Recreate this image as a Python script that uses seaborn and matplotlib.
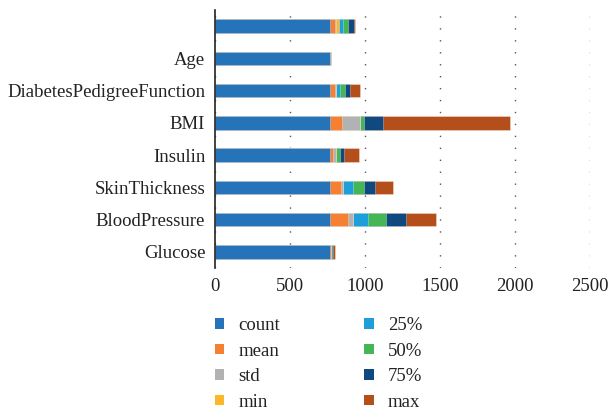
import matplotlib
matplotlib.use("Agg")
import matplotlib.pyplot as plt
from matplotlib.patches import Patch
import pandas as pd
import seaborn as sns

# --- data (top bar first) ---
features = ["", "Age", "DiabetesPedigreeFunction", "BMI", "Insulin",
            "SkinThickness", "BloodPressure", "Glucose"]
stats = ["count", "mean", "std", "min", "25%", "50%", "75%", "max"]

count_vals = [768, 768, 768, 768, 768, 768, 768, 768]
mean_vals = [29, 1, 29, 78, 18, 69, 118, 2]
std_vals = [11, 1, 11, 118, 18, 18, 36, 6]
min_vals = [18, 0, 0, 0, 0, 0, 0, 0]
p25_vals = [27, 1, 22, 0, 0, 64, 98, 0]
p50_vals = [33, 1, 36, 29, 27, 71, 118, 1]
p75_vals = [38, 1, 36, 127, 29, 78, 138, 7]
max_vals = [7, 1, 67, 844, 98, 120, 200, 18]

colors = ["#2574BA", "#F57F32", "#B1B2B4", "#FCB826",
          "#1E9FDA", "#44B653", "#10497F", "#B44E1A"]

df = pd.DataFrame({
    "feature": features,
    "count": count_vals,
    "mean": mean_vals,
    "std": std_vals,
    "min": min_vals,
    "25%": p25_vals,
    "50%": p50_vals,
    "75%": p75_vals,
    "max": max_vals,
})
cum = df[stats].cumsum(axis=1)
cum["feature"] = df["feature"]

sns.set_theme(style="white")
plt.rcParams["font.family"] = ["Liberation Serif", "DejaVu Serif"]

fig = plt.figure(figsize=(6.08, 4.12), dpi=100)
ax = fig.add_axes([215 / 608, 1 - 268 / 412, 375 / 608, 258 / 412])

# stacked bars: draw cumulative totals from largest to smallest
for stat, color in reversed(list(zip(stats, colors))):
    sns.barplot(data=cum, x=stat, y="feature", color=color, width=0.42,
                saturation=1, errorbar=None, ax=ax,
                edgecolor=(1, 1, 1, 0.35), linewidth=0.6)

ax.set_xlim(0, 2500)
ax.set_xticks([0, 500, 1000, 1500, 2000, 2500])
ax.set_xlabel("")
ax.set_ylabel("")
ax.xaxis.grid(True, linestyle=(0, (1, 7.6)), color="#555555", linewidth=1)
ax.set_axisbelow(True)
for side in ["top", "right", "bottom"]:
    ax.spines[side].set_visible(False)
ax.spines["left"].set_color("#222222")
ax.spines["left"].set_linewidth(1.2)
ax.tick_params(axis="both", length=0, labelsize=13.5, colors="#222222")
ax.tick_params(axis="y", pad=7)
ax.tick_params(axis="x", pad=7)

handles = [Patch(facecolor=c, edgecolor="none", label=s) for s, c in zip(stats, colors)]
fig.legend(handles=handles, loc="upper left", bbox_to_anchor=(198 / 608, 1 - 300 / 412),
           ncol=2, frameon=False, fontsize=13.5, handlelength=0.5, handleheight=0.5,
           handletextpad=0.75, labelspacing=0.46, columnspacing=4.5,
           labelcolor="#222222")

fig.savefig("out.png", dpi=100)
